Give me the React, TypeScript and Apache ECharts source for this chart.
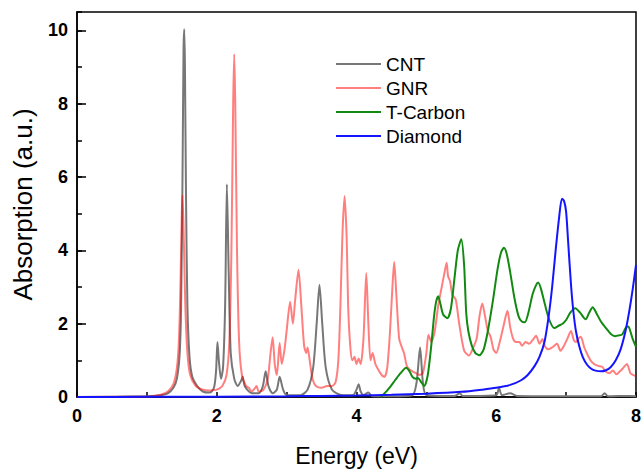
import React, { useEffect, useRef } from "react";
import * as echarts from "echarts";

const seriesNames = ["CNT", "GNR", "T-Carbon", "Diamond"];
const xTickValues = [0, 2, 4, 6, 8];
const yTickValues = [0, 2, 4, 6, 8, 10];

const cntX = [0, 1.0, 1.2, 1.3, 1.38, 1.43, 1.47, 1.49, 1.51, 1.525, 1.535, 1.545, 1.56, 1.58, 1.61, 1.65, 1.72, 1.8, 1.9, 1.96, 1.99, 2.01, 2.03, 2.06, 2.09, 2.12, 2.145, 2.17, 2.2, 2.25, 2.3, 2.35, 2.37, 2.4, 2.5, 2.6, 2.66, 2.7, 2.74, 2.8, 2.86, 2.9, 2.95, 3.0, 3.2, 3.3, 3.38, 3.43, 3.47, 3.51, 3.56, 3.65, 3.8, 3.95, 4.0, 4.03, 4.06, 4.1, 4.17, 4.22, 4.5, 4.8, 4.86, 4.91, 4.95, 5.0, 5.4, 5.48, 5.52, 6.0, 6.04, 6.08, 6.2, 6.3, 7.5, 7.55, 7.6, 7.9, 8.0];
const cntY = [0, 0.02, 0.05, 0.1, 0.25, 0.5, 1.2, 2.5, 6, 9.5, 10.03, 9, 5.5, 2.5, 1.1, 0.55, 0.3, 0.15, 0.12, 0.25, 0.7, 1.5, 1.0, 0.5, 0.8, 2.5, 5.8, 3.5, 1.2, 0.5, 0.3, 0.45, 0.55, 0.3, 0.1, 0.1, 0.3, 0.7, 0.3, 0.1, 0.2, 0.55, 0.2, 0.05, 0.05, 0.2, 0.8, 2.0, 3.06, 2.0, 0.8, 0.2, 0.05, 0.05, 0.2, 0.35, 0.15, 0.05, 0.12, 0.03, 0.02, 0.05, 0.4, 1.35, 0.4, 0.05, 0.03, 0.1, 0.03, 0.05, 0.25, 0.05, 0.1, 0.03, 0.02, 0.1, 0.02, 0.03, 0.02];

const gnrX = [0, 1.0, 1.1, 1.2, 1.3, 1.38, 1.43, 1.46, 1.48, 1.5, 1.51, 1.53, 1.55, 1.58, 1.62, 1.7, 1.8, 1.9, 2.0, 2.08, 2.14, 2.18, 2.21, 2.235, 2.25, 2.265, 2.29, 2.32, 2.36, 2.42, 2.46, 2.5, 2.55, 2.57, 2.6, 2.67, 2.73, 2.77, 2.8, 2.83, 2.86, 2.9, 2.93, 2.97, 3.0, 3.05, 3.09, 3.12, 3.17, 3.21, 3.25, 3.28, 3.3, 3.33, 3.37, 3.42, 3.5, 3.58, 3.65, 3.7, 3.74, 3.77, 3.8, 3.83, 3.86, 3.88, 3.91, 3.94, 3.97, 4.0, 4.03, 4.06, 4.1, 4.14, 4.17, 4.2, 4.23, 4.27, 4.31, 4.36, 4.4, 4.44, 4.48, 4.52, 4.54, 4.57, 4.61, 4.65, 4.68, 4.72, 4.76, 4.8, 4.85, 4.9, 4.95, 5.0, 5.03, 5.07, 5.12, 5.17, 5.22, 5.26, 5.29, 5.31, 5.34, 5.37, 5.42, 5.47, 5.54, 5.61, 5.66, 5.72, 5.76, 5.8, 5.84, 5.88, 5.92, 5.96, 6.0, 6.05, 6.1, 6.16, 6.2, 6.24, 6.28, 6.33, 6.37, 6.42, 6.47, 6.52, 6.57, 6.62, 6.66, 6.7, 6.75, 6.8, 6.87, 6.92, 6.97, 7.02, 7.07, 7.11, 7.14, 7.18, 7.21, 7.26, 7.3, 7.35, 7.4, 7.46, 7.52, 7.56, 7.62, 7.67, 7.72, 7.77, 7.82, 7.87, 7.92, 7.96, 8.0];
const gnrY = [0, 0.01, 0.03, 0.06, 0.15, 0.35, 0.8, 1.6, 3.0, 5.0, 5.5, 4.2, 2.5, 1.2, 0.6, 0.3, 0.2, 0.18, 0.2, 0.3, 0.6, 1.5, 4.0, 8.0, 9.35, 8.0, 4.0, 1.5, 0.6, 0.3, 0.25, 0.15, 0.25, 0.3, 0.15, 0.2, 0.5, 1.2, 1.63, 0.9, 0.6, 1.47, 0.9, 1.3, 1.8, 2.6, 2.0, 2.6, 3.47, 2.5, 1.4, 1.2, 1.35, 1.0, 0.5, 0.3, 0.25, 0.3, 0.3, 0.4, 1.0, 2.5, 4.5, 5.48, 4.3, 2.5, 1.4, 1.0, 1.1, 0.9, 1.05, 0.9, 1.6, 3.38, 2.0, 1.0, 1.2, 0.9, 0.75, 0.6, 0.55, 0.8, 1.8, 3.2, 3.68, 2.8, 1.6, 1.35, 1.2, 0.85, 0.75, 0.7, 0.65, 0.6, 0.65, 1.2, 1.7, 1.5, 1.8, 2.5, 3.0, 3.4, 3.66, 3.3, 3.15, 2.8, 2.66, 2.0, 1.27, 1.13, 1.3, 1.6, 2.2, 2.55, 2.2, 1.8, 1.64, 1.3, 1.2, 1.5, 1.9, 2.35, 1.9, 1.6, 1.5, 1.5, 1.4, 1.5, 1.45, 1.55, 1.67, 1.45, 1.58, 1.37, 1.3, 1.35, 1.45, 1.26, 1.4, 1.6, 1.8, 1.55, 1.5, 1.6, 1.64, 1.35, 1.18, 1.0, 0.9, 0.85, 0.82, 0.7, 0.65, 0.72, 0.62, 0.7, 0.8, 0.9, 0.65, 0.6, 0.56];

const tcX = [4.35, 4.45, 4.55, 4.63, 4.71, 4.76, 4.8, 4.85, 4.88, 4.92, 4.97, 5.02, 5.07, 5.11, 5.14, 5.17, 5.2, 5.24, 5.3, 5.35, 5.4, 5.45, 5.5, 5.54, 5.57, 5.6, 5.65, 5.7, 5.76, 5.82, 5.88, 5.95, 6.02, 6.07, 6.11, 6.15, 6.2, 6.26, 6.32, 6.37, 6.41, 6.46, 6.52, 6.57, 6.6, 6.64, 6.7, 6.76, 6.83, 6.9, 6.95, 7.0, 7.06, 7.13, 7.2, 7.28, 7.33, 7.38, 7.43, 7.5, 7.57, 7.64, 7.7, 7.75, 7.8, 7.87, 7.9, 7.95, 8.0];
const tcY = [0, 0.2, 0.45, 0.65, 0.8, 0.7, 0.55, 0.5, 0.52, 0.42, 0.3, 0.6, 1.4, 2.2, 2.6, 2.75, 2.55, 2.25, 2.15, 2.4, 3.2, 4.0, 4.3, 3.6, 2.3, 1.8, 1.4, 1.2, 1.14, 1.3, 1.8, 2.6, 3.5, 3.95, 4.07, 3.9, 3.4, 2.7, 2.2, 2.05, 2.04, 2.3, 2.8, 3.05, 3.12, 2.95, 2.5, 2.1, 1.88, 1.95, 2.0, 2.1, 2.3, 2.42, 2.3, 2.12, 2.3, 2.45, 2.3, 2.05, 1.88, 1.72, 1.66, 1.68, 1.7, 1.92, 1.9, 1.6, 1.37];

const diaX = [0, 1, 2, 3, 3.5, 4, 4.5, 5, 5.5, 5.8, 6.0, 6.2, 6.35, 6.45, 6.55, 6.62, 6.69, 6.75, 6.8, 6.85, 6.9, 6.94, 6.97, 7.0, 7.03, 7.07, 7.1, 7.14, 7.19, 7.24, 7.3, 7.36, 7.42, 7.5, 7.57, 7.64, 7.71, 7.78, 7.85, 7.9, 7.95, 8.0];
const diaY = [0, 0.005, 0.01, 0.02, 0.03, 0.04, 0.06, 0.09, 0.14, 0.2, 0.25, 0.33, 0.45, 0.6, 0.85, 1.1, 1.5, 2.2, 3.0, 4.0, 4.9, 5.41, 5.35, 5.05, 4.2, 3.06, 2.4, 1.8, 1.37, 1.08, 0.88, 0.77, 0.72, 0.7, 0.73, 0.82, 1.0, 1.3, 1.8, 2.3, 2.9, 3.6];

const colors = ["#777777", "rgba(255,0,0,0.5)", "#128a12", "#1414ff"];
const FONT = 'Arial, "Liberation Sans", sans-serif';

const pairs = (xs: number[], ys: number[]) => xs.map((x, i) => [x, ys[i]]);

export default function App() {
  const ref = useRef<HTMLDivElement>(null);
  useEffect(() => {
    if (!ref.current) return;
    const chart = echarts.init(ref.current, undefined, { renderer: "svg" });
    const dataSets = [pairs(cntX, cntY), pairs(gnrX, gnrY), pairs(tcX, tcY), pairs(diaX, diaY)];
    chart.setOption({
      animation: false,
      backgroundColor: "#fff",
      textStyle: { fontFamily: FONT },
      grid: { left: 77, right: 6, top: 12, bottom: 68, show: true, borderColor: "#000", borderWidth: 1.5, backgroundColor: "transparent" },
      legend: {
        orient: "vertical",
        left: 331,
        top: 49,
        itemWidth: 45,
        itemHeight: 2,
        itemGap: 4,
        icon: "rect",
        textStyle: { fontSize: 19, lineHeight: 20, color: "#000", fontFamily: FONT },
        data: seriesNames,
      },
      xAxis: {
        type: "value",
        min: 0,
        max: 8,
        interval: 1,
        name: "Energy (eV)",
        nameLocation: "middle",
        nameGap: 47,
        nameTextStyle: { fontSize: 23, color: "#000", fontFamily: FONT },
        axisLine: { lineStyle: { color: "#000", width: 1.5 } },
        axisTick: { inside: true, length: 5, lineStyle: { color: "#000", width: 1.5 } },
        axisLabel: {
          margin: 10,
          fontSize: 18,
          fontWeight: "bold",
          color: "#000",
          fontFamily: FONT,
          formatter: (v: number) => (xTickValues.includes(v) ? String(v) : ""),
        },
        splitLine: { show: false },
      },
      yAxis: [
        {
          type: "value",
          min: 0,
          max: 10.5,
          interval: 2,
          name: "Absorption (a.u.)",
          nameLocation: "middle",
          nameGap: 41,
          nameTextStyle: { fontSize: 26, color: "#000", fontFamily: FONT },
          axisLine: { lineStyle: { color: "#000", width: 1.5 } },
          axisTick: { inside: true, length: 9, lineStyle: { color: "#000", width: 1.5 } },
          axisLabel: {
            margin: 9,
            fontSize: 18,
            fontWeight: "bold",
            color: "#000",
            fontFamily: FONT,
            showMaxLabel: false,
            formatter: (v: number) => (yTickValues.includes(v) ? String(v) : ""),
          },
          splitLine: { show: false },
        },
        {
          type: "value",
          min: 0,
          max: 10.5,
          interval: 1,
          position: "left",
          axisLine: { show: false },
          axisTick: { inside: true, length: 5, lineStyle: { color: "#000", width: 1.5 } },
          axisLabel: { show: false },
          splitLine: { show: false },
        },
      ],
      series: dataSets.map((d, i) => ({
        name: seriesNames[i],
        type: "line",
        data: d,
        yAxisIndex: 0,
        showSymbol: false,
        symbol: "none",
        smooth: 0.25,
        color: colors[i],
        lineStyle: { width: 2, color: colors[i] },
        z: 2 + i,
      })),
    });
    return () => chart.dispose();
  }, []);
  return <div ref={ref} style={{ position: "fixed", left: 0, top: 0, width: 644, height: 472 }} />;
}
